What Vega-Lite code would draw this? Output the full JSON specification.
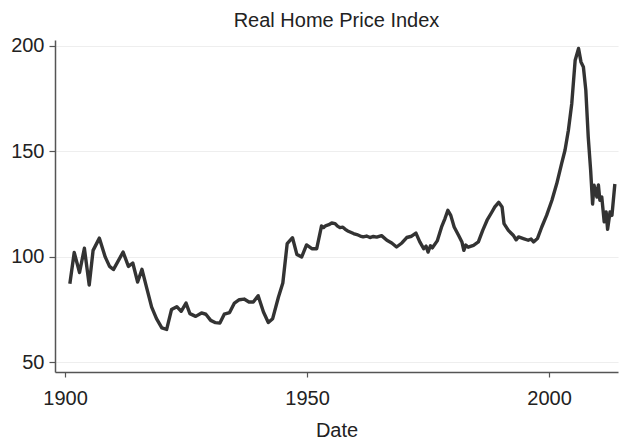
{
  "$schema": "https://vega.github.io/schema/vega-lite/v6.json",
  "width": 563,
  "height": 332,
  "autosize": "none",
  "padding": {"left": 55, "top": 40, "right": 2, "bottom": 67},
  "background": "white",
  "title": {"text": "Real Home Price Index", "fontSize": 20, "font": "Liberation Sans", "fontWeight": "normal", "color": "#222222", "offset": 5, "anchor": "middle"},
  "config": {"view": {"stroke": null}},
  "data": {"values": [
    {"year": 1901.0, "value": 87.2}, {"year": 1901.9, "value": 102.0}, {"year": 1903.0, "value": 92.5},
    {"year": 1904.0, "value": 104.0}, {"year": 1905.0, "value": 86.5}, {"year": 1905.8, "value": 103.0},
    {"year": 1907.1, "value": 108.8}, {"year": 1908.3, "value": 99.9}, {"year": 1909.2, "value": 95.4},
    {"year": 1910.0, "value": 93.9}, {"year": 1912.0, "value": 102.2}, {"year": 1913.1, "value": 95.4},
    {"year": 1914.0, "value": 97.0}, {"year": 1915.0, "value": 88.0}, {"year": 1915.9, "value": 94.0},
    {"year": 1916.9, "value": 85.0}, {"year": 1917.9, "value": 76.1}, {"year": 1918.9, "value": 70.6},
    {"year": 1920.0, "value": 66.2}, {"year": 1921.0, "value": 65.5}, {"year": 1922.0, "value": 74.9},
    {"year": 1923.1, "value": 76.3}, {"year": 1924.0, "value": 74.1}, {"year": 1925.0, "value": 78.0},
    {"year": 1925.8, "value": 73.0}, {"year": 1927.0, "value": 71.7}, {"year": 1928.2, "value": 73.3},
    {"year": 1929.1, "value": 72.7}, {"year": 1930.1, "value": 69.8}, {"year": 1931.1, "value": 68.7},
    {"year": 1932.0, "value": 68.5}, {"year": 1932.9, "value": 72.7}, {"year": 1934.0, "value": 73.5},
    {"year": 1935.0, "value": 78.0}, {"year": 1936.0, "value": 79.6}, {"year": 1937.0, "value": 79.9},
    {"year": 1938.0, "value": 78.5}, {"year": 1938.9, "value": 78.5}, {"year": 1939.9, "value": 81.5},
    {"year": 1941.0, "value": 73.8}, {"year": 1942.0, "value": 68.8}, {"year": 1942.9, "value": 70.6},
    {"year": 1944.1, "value": 80.9}, {"year": 1945.0, "value": 87.5}, {"year": 1945.9, "value": 106.2},
    {"year": 1947.0, "value": 109.0}, {"year": 1947.9, "value": 101.1}, {"year": 1948.9, "value": 99.9},
    {"year": 1949.9, "value": 105.6}, {"year": 1951.0, "value": 103.8}, {"year": 1952.0, "value": 103.8},
    {"year": 1953.0, "value": 114.6}, {"year": 1953.4, "value": 113.8}, {"year": 1953.7, "value": 114.4},
    {"year": 1954.1, "value": 114.9}, {"year": 1954.5, "value": 115.2},
    {"year": 1955.1, "value": 116.0}, {"year": 1955.8, "value": 115.7}, {"year": 1956.3, "value": 114.5},
    {"year": 1956.8, "value": 113.8}, {"year": 1957.4, "value": 114.0}, {"year": 1957.9, "value": 113.0},
    {"year": 1958.4, "value": 112.2}, {"year": 1958.9, "value": 111.7}, {"year": 1959.6, "value": 111.0},
    {"year": 1960.3, "value": 110.5}, {"year": 1961.0, "value": 109.8}, {"year": 1961.6, "value": 109.4},
    {"year": 1962.3, "value": 109.8}, {"year": 1963.0, "value": 109.1}, {"year": 1963.7, "value": 109.6},
    {"year": 1964.4, "value": 109.3}, {"year": 1965.4, "value": 110.0}, {"year": 1966.5, "value": 107.8},
    {"year": 1967.5, "value": 106.5}, {"year": 1968.5, "value": 104.6}, {"year": 1969.6, "value": 106.5},
    {"year": 1970.6, "value": 109.1}, {"year": 1971.6, "value": 109.7}, {"year": 1972.5, "value": 111.2},
    {"year": 1973.3, "value": 107.0}, {"year": 1974.1, "value": 103.8}, {"year": 1974.6, "value": 105.0},
    {"year": 1975.0, "value": 102.2}, {"year": 1975.5, "value": 105.2}, {"year": 1975.9, "value": 104.2},
    {"year": 1976.9, "value": 107.5}, {"year": 1977.8, "value": 114.1}, {"year": 1978.5, "value": 118.1},
    {"year": 1979.1, "value": 122.0}, {"year": 1979.7, "value": 119.6}, {"year": 1980.4, "value": 114.1},
    {"year": 1981.3, "value": 110.2}, {"year": 1982.0, "value": 107.0}, {"year": 1982.4, "value": 103.0},
    {"year": 1982.8, "value": 105.5}, {"year": 1983.3, "value": 104.5}, {"year": 1984.4, "value": 105.4},
    {"year": 1985.4, "value": 107.0}, {"year": 1986.3, "value": 112.5}, {"year": 1987.2, "value": 117.3},
    {"year": 1988.2, "value": 121.2}, {"year": 1988.8, "value": 123.6}, {"year": 1989.6, "value": 125.8},
    {"year": 1990.3, "value": 123.6}, {"year": 1990.7, "value": 115.7}, {"year": 1991.6, "value": 112.5},
    {"year": 1992.6, "value": 110.2}, {"year": 1993.2, "value": 108.0}, {"year": 1993.7, "value": 109.4},
    {"year": 1994.7, "value": 108.6}, {"year": 1995.7, "value": 107.8}, {"year": 1996.3, "value": 108.4},
    {"year": 1996.8, "value": 107.0}, {"year": 1997.6, "value": 108.6}, {"year": 1998.5, "value": 114.1},
    {"year": 1999.5, "value": 119.6}, {"year": 2000.6, "value": 126.8}, {"year": 2001.6, "value": 134.7},
    {"year": 2002.6, "value": 144.2}, {"year": 2003.3, "value": 150.5}, {"year": 2004.0, "value": 160.0},
    {"year": 2004.7, "value": 172.7}, {"year": 2005.4, "value": 193.2}, {"year": 2006.1, "value": 198.8},
    {"year": 2006.6, "value": 192.4}, {"year": 2007.1, "value": 190.0}, {"year": 2007.6, "value": 179.0},
    {"year": 2008.1, "value": 156.8}, {"year": 2008.6, "value": 141.0}, {"year": 2009.0, "value": 125.0},
    {"year": 2009.3, "value": 133.9}, {"year": 2009.9, "value": 128.3}, {"year": 2010.2, "value": 134.0},
    {"year": 2010.5, "value": 126.8}, {"year": 2010.9, "value": 128.3}, {"year": 2011.4, "value": 116.5},
    {"year": 2011.8, "value": 121.2}, {"year": 2012.1, "value": 113.0}, {"year": 2012.6, "value": 121.2},
    {"year": 2013.0, "value": 119.6}, {"year": 2013.6, "value": 134.5}
  ]},
  "mark": {"type": "line", "color": "#333333", "strokeWidth": 3.4, "strokeJoin": "round"},
  "encoding": {
    "x": {
      "field": "year", "type": "quantitative",
      "scale": {"domain": [1897.93, 2014.25], "nice": false, "zero": false},
      "axis": {
        "title": "Date", "values": [1900, 1950, 2000], "format": "d", "grid": false,
        "domain": true, "domainColor": "#555555", "domainWidth": 1.5,
        "tickColor": "#555555", "tickSize": 5, "tickWidth": 1.2,
        "labelFont": "Liberation Sans", "labelFontSize": 20, "labelColor": "#222222", "labelPadding": 11,
        "titleFont": "Liberation Sans", "titleFontSize": 20, "titleFontWeight": "normal", "titleColor": "#222222", "titlePadding": 12
      }
    },
    "y": {
      "field": "value", "type": "quantitative",
      "scale": {"domain": [45.3, 202.8], "nice": false, "zero": false},
      "axis": {
        "title": null, "values": [50, 100, 150, 200], "grid": true, "gridColor": "#eeeeee", "gridWidth": 1.2,
        "domain": true, "domainColor": "#555555", "domainWidth": 1.5,
        "tickColor": "#555555", "tickSize": 6, "tickWidth": 1.2,
        "labelFont": "Liberation Sans", "labelFontSize": 20, "labelColor": "#222222", "labelPadding": 5
      }
    }
  }
}
